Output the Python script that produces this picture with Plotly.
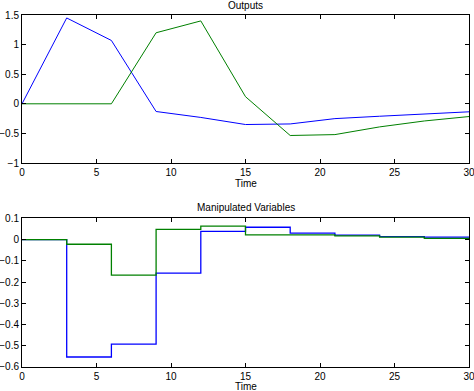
import plotly.graph_objects as go

time_out = [0, 3, 6, 9, 12, 15, 18, 21, 24, 27, 30]
output1 = [0, 1.45, 1.07, -0.13, -0.23, -0.35, -0.34, -0.25, -0.21, -0.17, -0.135]
output2 = [0, 0, 0, 1.20, 1.40, 0.12, -0.535, -0.52, -0.39, -0.29, -0.215]

time_mv = [0, 3, 6, 9, 12, 15, 18, 21, 24, 27, 30]
mv1 = [0, -0.553, -0.492, -0.158, 0.039, 0.058, 0.030, 0.021, 0.014, 0.011, 0.011]
mv2 = [0, -0.022, -0.167, 0.048, 0.063, 0.022, 0.022, 0.017, 0.011, 0.006, 0.006]

x_range = [0, 30]
y1_range = [-1, 1.5]
y2_range = [-0.6, 0.1]
x_ticks = [0, 5, 10, 15, 20, 25, 30]
y1_ticks = [-1, -0.5, 0, 0.5, 1, 1.5]
y1_text = ["\u22121", "\u22120.5", "0", "0.5", "1", "1.5"]
y2_ticks = [-0.6, -0.5, -0.4, -0.3, -0.2, -0.1, 0, 0.1]
y2_text = ["\u22120.6", "\u22120.5", "\u22120.4", "\u22120.3", "\u22120.2", "\u22120.1", "0", "0.1"]

BLUE = "#0000ff"
GREEN = "#008000"
FONT = "Liberation Sans"

fig = go.Figure()
fig.add_trace(go.Scatter(x=time_out, y=output1, mode="lines", line=dict(color=BLUE, width=1), xaxis="x", yaxis="y"))
fig.add_trace(go.Scatter(x=time_out, y=output2, mode="lines", line=dict(color=GREEN, width=1), xaxis="x", yaxis="y"))
fig.add_trace(go.Scatter(x=time_mv, y=mv1, mode="lines", line=dict(color=BLUE, width=1.3, shape="hv"), xaxis="x2", yaxis="y2"))
fig.add_trace(go.Scatter(x=time_mv, y=mv2, mode="lines", line=dict(color=GREEN, width=1.3, shape="hv"), xaxis="x2", yaxis="y2"))


def ax(**kw):
    d = dict(showline=True, linecolor="black", linewidth=1, mirror="ticks",
             ticks="inside", ticklen=4, tickwidth=1, tickcolor="black",
             showgrid=False, zeroline=False, automargin=False,
             ticklabeloverflow="allow",
             tickfont=dict(family=FONT, size=10, color="black"))
    d.update(kw)
    return d


fig.update_layout(
    xaxis=ax(domain=[0, 1], anchor="y", range=x_range, tickvals=x_ticks),
    yaxis=ax(domain=[0.5795, 1], anchor="x", range=y1_range, tickvals=y1_ticks, ticktext=y1_text),
    xaxis2=ax(domain=[0, 1], anchor="y2", range=x_range, tickvals=x_ticks),
    yaxis2=ax(domain=[0, 0.4224], anchor="x2", range=y2_range, tickvals=y2_ticks, ticktext=y2_text),
    width=474, height=391,
    margin=dict(l=22, r=5, t=15, b=24, autoexpand=False),
    paper_bgcolor="white", plot_bgcolor="white",
    showlegend=False,
    font=dict(family=FONT, size=10, color="black"),
)

ann = dict(showarrow=False, font=dict(family=FONT, size=10, color="black"), xref="paper", yref="paper")
fig.add_annotation(text="Outputs", x=0.5, y=1, yshift=10, xanchor="center", yanchor="middle", **ann)
fig.add_annotation(text="Time", x=0.5, y=0.5795, yshift=-20, xanchor="center", yanchor="middle", **ann)
fig.add_annotation(text="Manipulated Variables", x=0.5, y=0.4224, yshift=11, xanchor="center", yanchor="middle", **ann)
fig.add_annotation(text="Time", x=0.5, y=0, yshift=-19, xanchor="center", yanchor="middle", **ann)

css = ("var s=document.createElement('style');"
       "s.textContent='body{margin:0;padding:0;}';"
       "document.head.appendChild(s);")
fig.write_html("out.html", post_script=css, config={"displayModeBar": False, "staticPlot": True})
